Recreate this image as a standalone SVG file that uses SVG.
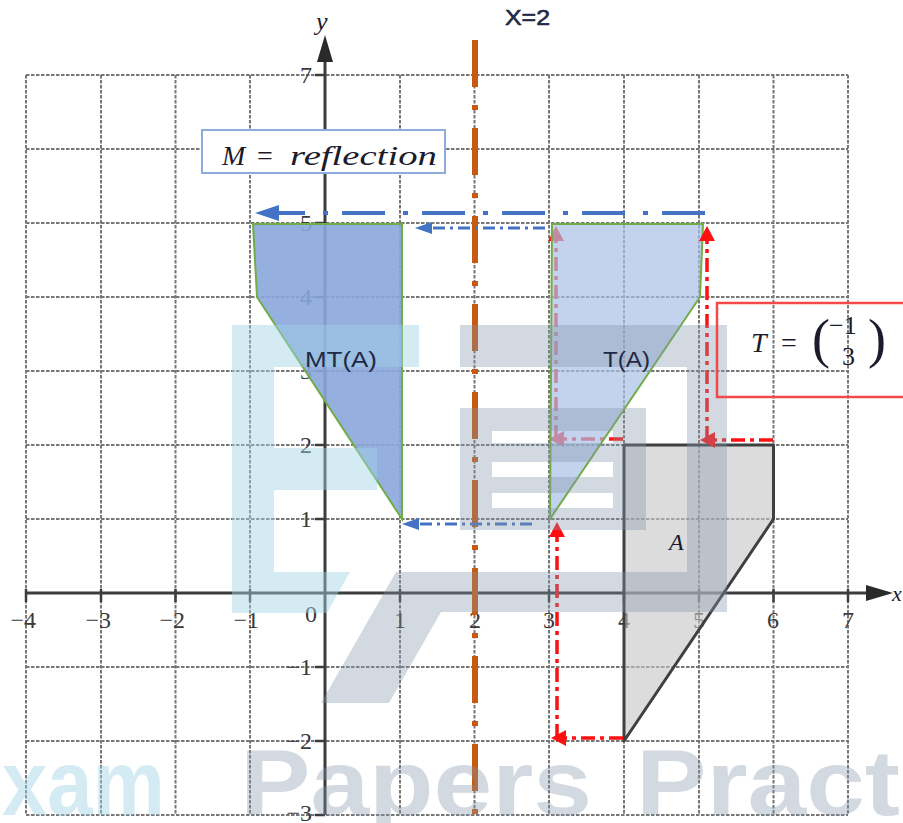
<svg xmlns="http://www.w3.org/2000/svg" width="903" height="823" viewBox="0 0 903 823">
<style>
.grid{fill:none;stroke:#777;stroke-width:2;stroke-dasharray:3.5 1.5}
.axis{fill:none;stroke:#3c3c3c;stroke-width:3}
.tick{fill:none;stroke:#3c3c3c;stroke-width:2.5}
.num{font-family:"Liberation Serif",serif;font-size:24px;fill:#3a3a3a}
.lbl{font-family:"Liberation Sans",Arial,sans-serif;font-size:22px;fill:#1f2a44}
.math{font-family:"Liberation Serif",serif;fill:#1b1b2b}
.red{fill:none;stroke:#ff1010;stroke-width:3.5;stroke-dasharray:14 5 4 5}
.blueL{fill:none;stroke:#4472c4;stroke-width:4;stroke-dasharray:43 14 5 18}
.blueS{fill:none;stroke:#4472c4;stroke-width:3;stroke-dasharray:12 5 3 5}
.wmB{fill:#9fd3e6;fill-opacity:0.45}
.wmG{fill:#8496a8;fill-opacity:0.36}
</style>
<defs>
<marker id="ahRed" markerUnits="userSpaceOnUse" viewBox="0 0 15 16" refX="0" refY="8" markerWidth="15" markerHeight="16" orient="auto"><path d="M0,0 L15,8 L0,16 Z" fill="#ff1010"/></marker>
<marker id="ahBlueL" markerUnits="userSpaceOnUse" viewBox="0 0 24 16" refX="0" refY="8" markerWidth="24" markerHeight="16" orient="auto"><path d="M0,0 L24,8 L0,16 Z" fill="#4472c4"/></marker>
<marker id="ahBlueS" markerUnits="userSpaceOnUse" viewBox="0 0 17 12" refX="0" refY="6" markerWidth="17" markerHeight="12" orient="auto"><path d="M0,0 L17,6 L0,12 Z" fill="#4472c4"/></marker>
</defs>
<rect x="0" y="0" width="903" height="823" fill="#ffffff"/>

<g id="grid">
<path class="grid" d="M26,75 V815 M101,75 V815 M175.5,75 V815 M250,75 V815 M400,75 V815 M474.5,75 V815 M549,75 V815 M624,75 V815 M699,75 V815 M773.5,75 V815 M848,75 V815 M26,75 H848 M26,149 H848 M26,223 H848 M26,297 H848 M26,371 H848 M26,445 H848 M26,519 H848 M26,667 H848 M26,741 H848 M26,815 H848"/>
</g>

<g id="axes">
<path class="axis" d="M26,593 H868 M325,815 V60"/>
<polygon points="893,593 866,585 866,601" fill="#2a2a2a"/>
<polygon points="325,35 317,62 333,62" fill="#2a2a2a"/>
<path class="tick" d="M26,589 V602 M101,589 V602 M175.5,589 V602 M250,589 V602 M400,589 V602 M474.5,589 V602 M549,589 V602 M624,589 V602 M699,589 V602 M773.5,589 V602 M848,589 V602 M315,75 H325 M315,149 H325 M315,223 H325 M315,297 H325 M315,371 H325 M315,445 H325 M315,519 H325 M315,667 H325 M315,741 H325 M315,815 H325"/>
<text class="math" x="316" y="30" font-size="26" font-style="italic" fill="#444">y</text>
<text class="math" x="892" y="601" font-size="22" font-style="italic" fill="#444">x</text>
<g class="num">
<text x="36" y="628" text-anchor="end">−4</text>
<text x="111" y="628" text-anchor="end">−3</text>
<text x="185" y="628" text-anchor="end">−2</text>
<text x="259" y="628" text-anchor="end">−1</text>
<text x="311" y="622" text-anchor="middle">0</text>
<text x="400" y="628" text-anchor="middle">1</text>
<text x="475" y="628" text-anchor="middle">2</text>
<text x="549" y="628" text-anchor="middle">3</text>
<text x="624" y="628" text-anchor="middle">4</text>
<text x="699" y="628" text-anchor="middle">5</text>
<text x="773" y="628" text-anchor="middle">6</text>
<text x="848" y="628" text-anchor="middle">7</text>
<text x="312" y="83" text-anchor="end">7</text>
<text x="312" y="231" text-anchor="end">5</text>
<text x="312" y="305" text-anchor="end">4</text>
<text x="312" y="379" text-anchor="end">3</text>
<text x="312" y="453" text-anchor="end">2</text>
<text x="312" y="527" text-anchor="end">1</text>
<text x="312" y="675" text-anchor="end">−1</text>
<text x="312" y="749" text-anchor="end">−2</text>
<text x="312" y="821" text-anchor="end">−3</text>
</g>
</g>

<g id="shape-A">
<polygon points="624,445 773.5,445 773.5,519 624,741" fill="#c4c4c4" fill-opacity="0.6" stroke="#3f3f3f" stroke-width="3" stroke-linejoin="round"/>
<text class="math" x="669" y="550" font-size="24" font-style="italic" fill="#4a4a4a">A</text>
</g>

<g id="connectors-under">
<path class="red" d="M623,439 H564" marker-end="url(#ahRed)"/>
<path class="red" d="M556,439 V241" marker-end="url(#ahRed)"/>
</g>

<g id="shape-TA">
<polygon points="552,224 703,224 700,297 550,519" fill="#a9bfe6" fill-opacity="0.7" stroke="#70ad47" stroke-width="2"/>
</g>

<g id="shape-MTA">
<polygon points="253,224 402,224 402,519 257,297" fill="#8aa6da" fill-opacity="0.9" stroke="#70ad47" stroke-width="2"/>
</g>

<g id="mirror-line">
<path d="M475,40 V823" fill="none" stroke="#c55a11" stroke-width="6" stroke-dasharray="47 18 5 18"/>
<text class="lbl" x="505" y="25" font-size="23" textLength="45" lengthAdjust="spacingAndGlyphs" stroke="#1f2a44" stroke-width="0.6">X=2</text>
</g>

<g id="connectors">
<path class="red" d="M623,738 H566" marker-end="url(#ahRed)"/>
<path class="red" d="M557,738 V537" marker-end="url(#ahRed)"/>
<path class="red" d="M773,440 H715" marker-end="url(#ahRed)"/>
<path class="red" d="M707,440 V241" marker-end="url(#ahRed)"/>
<path class="blueL" d="M705,213 H279" marker-end="url(#ahBlueL)"/>
<path class="blueS" d="M545,228 H432" marker-end="url(#ahBlueS)"/>
<path class="blueS" d="M532,524 H419" marker-end="url(#ahBlueS)"/>
</g>

<g id="watermark">
<path class="wmB" d="M232,325 H419 V367 H274 V448 H377 V490 H274 V572 H350 L327,613 H232 Z"/>
<path class="wmG" d="M460,325 H727 V612 H441 L389,703 H321 L396,572 H687 V367 H460 Z"/>
<path class="wmG" fill-rule="evenodd" d="M460,408 H646 V530 H460 Z M492,431 H613 V443 H492 Z M492,462 H613 V477 H492 Z M492,493 H613 V508 H492 Z"/>
<g font-family="Liberation Sans, Arial, sans-serif" font-weight="bold" font-size="92">
<text x="2" y="815" class="wmB" textLength="163" lengthAdjust="spacingAndGlyphs">xam</text>
<text x="240" y="815" class="wmG" textLength="352" lengthAdjust="spacingAndGlyphs">Papers</text>
<text x="636" y="815" class="wmG" textLength="264" lengthAdjust="spacingAndGlyphs">Pract</text>
</g>
</g>

<g id="label-MTA">
<text class="lbl" x="305" y="367" font-size="23" textLength="72" lengthAdjust="spacingAndGlyphs" fill="#141a2a">MT(A)</text>
</g>
<g id="label-TA">
<text class="lbl" x="603" y="367" font-size="23" textLength="47" lengthAdjust="spacingAndGlyphs" fill="#141a2a">T(A)</text>
</g>

<g id="box-M">
<rect x="202" y="130" width="243" height="43" fill="#ffffff" stroke="#8faadc" stroke-width="2"/>
<text class="math" x="222" y="165" font-size="28" font-style="italic">M</text>
<text class="math" x="257" y="165" font-size="28">=</text>
<text class="math" x="290" y="165" font-size="28" font-style="italic" textLength="147" lengthAdjust="spacingAndGlyphs">reflection</text>
</g>

<g id="box-T">
<rect x="717" y="303" width="200" height="94" fill="none" stroke="#f24a4a" stroke-width="2.5"/>
<text class="math" x="751" y="352" font-size="28" font-style="italic">T</text>
<text class="math" x="781" y="352" font-size="28">=</text>
<text class="math" x="812" y="357" font-size="54">(</text>
<text class="math" x="829" y="334" font-size="26">−1</text>
<text class="math" x="842" y="365" font-size="26">3</text>
<text class="math" x="868" y="357" font-size="54">)</text>
</g>
</svg>
